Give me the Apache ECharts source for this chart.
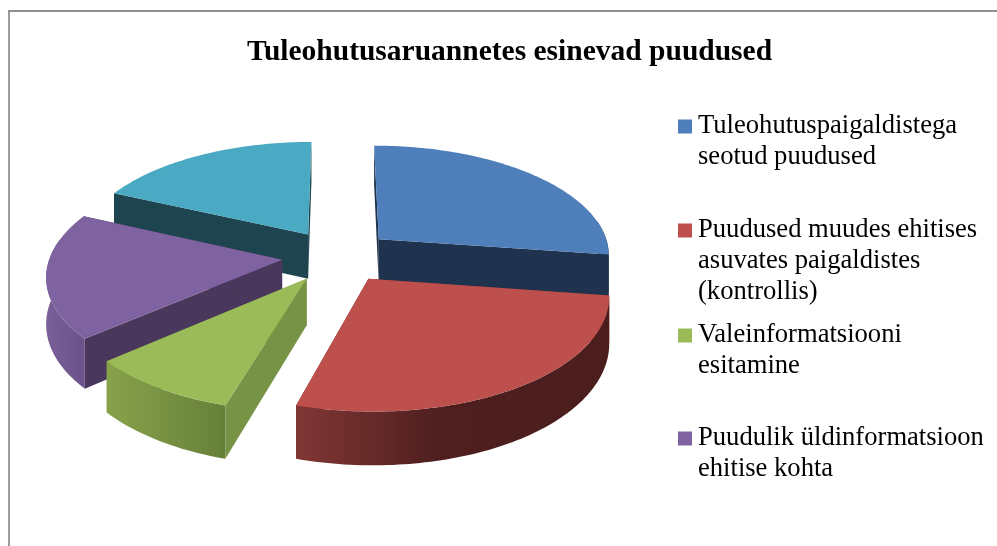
<!DOCTYPE html>
<html>
<head>
<meta charset="utf-8">
<style>html,body{margin:0;padding:0;background:#fff}#c{width:997px;height:546px}</style>
<script src="https://cdn.jsdelivr.net/npm/echarts@6/dist/echarts.min.js"></script>
</head>
<body>
<div id="c"></div>
<script>
var chartTitle = 'Tuleohutusaruannetes esinevad puudused';
var categories = [
  'Tuleohutuspaigaldistega\nseotud puudused',
  'Puudused muudes ehitises\nasuvates paigaldistes\n(kontrollis)',
  'Valeinformatsiooni\nesitamine',
  'Puudulik üldinformatsioon\nehitise kohta',
  'Muud puudused'
];
var values = [27, 27, 9, 18, 18];

var topColors = ['#4f7fbb', '#bd4f4c', '#9bbb59', '#7f62a0', '#4aa9c3'];
var radialWall = ['#1f334f', '#7a2f2d', '#779345', '#4a385c', '#1e444f'];
var arcStops = [
  ['#1f334f', '#1f334f'],
  ['#813735', '#4f1f1f', '#4b1d1d'],
  ['#87a24a', '#66803a'],
  ['#7a5f98', '#6a5288'],
  ['#1e444f', '#1e444f']
];
var legendTops = [80, 153, 289, 392];

var view = {cx: 337.5, cy: 256, rx: 232, ry: 109.5, persp: 0.128, explode: 0.24, depth: 45.5};
var total = values.reduce(function (a, b) { return a + b; }, 0);
var spans = [];
(function () {
  var a = 0;
  values.forEach(function (v) {
    var d = v / total * Math.PI * 2;
    spans.push([a, a + d]);
    a += d;
  });
})();

function project(X, Y, h) {
  var s = 1 / (1 - view.persp * Y);
  return [view.cx + view.rx * X * s, view.cy + view.ry * Y * s + view.depth * s * h];
}
function slicePoint(i, a, r, h) {
  var mid = (spans[i][0] + spans[i][1]) / 2;
  return project(Math.sin(a) * r + Math.sin(mid) * view.explode,
                 -Math.cos(a) * r - Math.cos(mid) * view.explode, h);
}
function arcAngles(a0, a1) {
  var out = [], n = Math.max(2, Math.ceil((a1 - a0) / 0.02));
  for (var j = 0; j <= n; j++) out.push(a0 + (a1 - a0) * j / n);
  return out;
}
function renderSlice(i) {
  return function () {
    var a0 = spans[i][0], a1 = spans[i][1], children = [];
    [a0, a1].forEach(function (a) {
      children.push({
        type: 'polygon',
        shape: {points: [slicePoint(i, a, 0, 0), slicePoint(i, a, 1, 0), slicePoint(i, a, 1, 1), slicePoint(i, a, 0, 1)]},
        style: {fill: radialWall[i]}
      });
    });
    var lo = Math.max(a0, 1.4), hi = Math.min(a1, 4.9);
    if (hi > lo) {
      var ang = arcAngles(lo, hi);
      var pts = ang.map(function (a) { return slicePoint(i, a, 1, 0); })
        .concat(ang.slice().reverse().map(function (a) { return slicePoint(i, a, 1, 1); }));
      var stops = arcStops[i];
      children.push({
        type: 'polygon', shape: {points: pts},
        style: {fill: new echarts.graphic.LinearGradient(0, 0, 1, 0, stops.map(function (c, k) {
          return {offset: stops.length === 3 ? [0, 0.45, 1][k] : k, color: c};
        }))}
      });
    }
    var face = [slicePoint(i, 0, 0, 0)].concat(arcAngles(a0, a1).map(function (a) { return slicePoint(i, a, 1, 0); }));
    children.push({type: 'polygon', shape: {points: face}, style: {fill: topColors[i]}});
    return {type: 'group', children: children};
  };
}

var depthOrder = spans.map(function (s, i) { return {i: i, y: -Math.cos((s[0] + s[1]) / 2)}; })
  .sort(function (a, b) { return a.y - b.y; });
var zOf = {};
depthOrder.forEach(function (d, k) { zOf[d.i] = k + 2; });

var series = categories.map(function (name, i) {
  return {
    type: 'custom', name: name, coordinateSystem: 'none', silent: true, animation: false,
    z: zOf[i], itemStyle: {color: topColors[i]},
    data: [[values[i]]], renderItem: renderSlice(i)
  };
});

var legends = categories.slice(0, 4).map(function (name, i) {
  var n = name.split('\n').length;
  return {
    data: [name], left: 678, top: legendTops[i], orient: 'vertical', padding: 0,
    icon: 'rect', itemWidth: 14, itemHeight: 14, itemGap: 0, selectedMode: false,
    textStyle: {fontFamily: 'Liberation Serif', fontSize: 26.6, lineHeight: 31, color: '#000', padding: [0, 0, 0, 1]},
    formatter: function (t) { return new Array(n).join('\n') + t; }
  };
});

var chart = echarts.init(document.getElementById('c'), null, {renderer: 'canvas'});
chart.setOption({
  backgroundColor: '#fff',
  animation: false,
  title: {
    text: chartTitle, left: 509.5, top: 37, textAlign: 'center', padding: 0,
    textStyle: {fontFamily: 'Liberation Serif', fontWeight: 'bold', fontSize: 29.5, color: '#000'}
  },
  legend: legends,
  graphic: [
    {type: 'rect', shape: {x: 8, y: 10, width: 2, height: 536}, style: {fill: '#9c9c9c'}, silent: true},
    {type: 'rect', shape: {x: 8, y: 10, width: 989, height: 2}, style: {fill: '#8f8f8f'}, silent: true}
  ],
  series: series
});
</script>
</body>
</html>
